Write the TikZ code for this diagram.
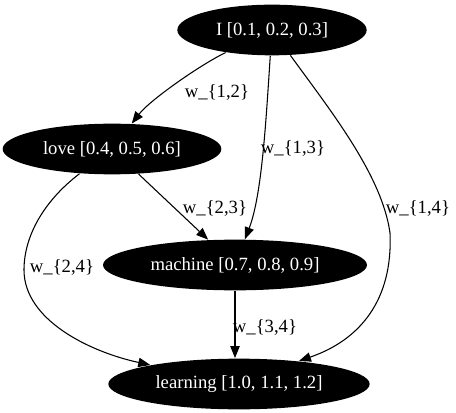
\documentclass[tikz,border=0pt]{standalone}
\usepackage{fontspec}
\setmainfont{Liberation Serif}
\usetikzlibrary{shapes.geometric, arrows.meta}

\tikzset{
	word/.style={ellipse, fill=black, text=white, inner sep=0pt, minimum height=38pt, font=\fontsize{14}{16}\selectfont},
	wlabel/.style={inner sep=0pt, font=\fontsize{14}{16}\selectfont},
	>={Triangle[length=9pt, width=7pt]}
}

\begin{document}
\begin{tikzpicture}[x=0.75pt, y=-0.75pt, line width=0.8pt]
			\useasboundingbox (0, 0) rectangle (456, 413);
			
			\node [word, minimum width=142pt] (I) at (272, 30) {I [0.1, 0.2, 0.3]};
			\node [word, minimum width=164pt] (love) at (112, 149) {love [0.4, 0.5, 0.6]};
			\node [word, minimum width=198pt] (machine) at (235, 265) {machine [0.7, 0.8, 0.9]};
			\node [word, minimum width=196pt] (learning) at (239, 384) {learning [1.0, 1.1, 1.2]};
			
			\draw[->] (I) .. controls (200, 65) and (150, 100) .. (love);
			\draw[->] (I) .. controls (266, 120) and (262, 195) .. (machine);
			\draw[->] (I) .. controls (330, 110) and (382, 175) .. (390, 233) .. controls (393, 300) and (360, 340) .. (learning.21);
			\draw[->] (love) -- (machine);
			\draw[->] (love) .. controls (45, 200) and (24, 235) .. (24, 270) .. controls (24, 320) and (90, 352) .. (learning);
			\draw[->] (machine) -- (machine |- learning.north);
			
			\node [wlabel] (w12) at (217, 92) {w\_\{1,2\}};
			\node [wlabel] (w13) at (293, 148) {w\_\{1,3\}};
			\node [wlabel] (w14) at (418, 208) {w\_\{1,4\}};
			\node [wlabel] (w23) at (215, 208) {w\_\{2,3\}};
			\node [wlabel] (w24) at (62, 267) {w\_\{2,4\}};
			\node [wlabel] (w34) at (265, 327) {w\_\{3,4\}};
		\end{tikzpicture}
\end{document}
